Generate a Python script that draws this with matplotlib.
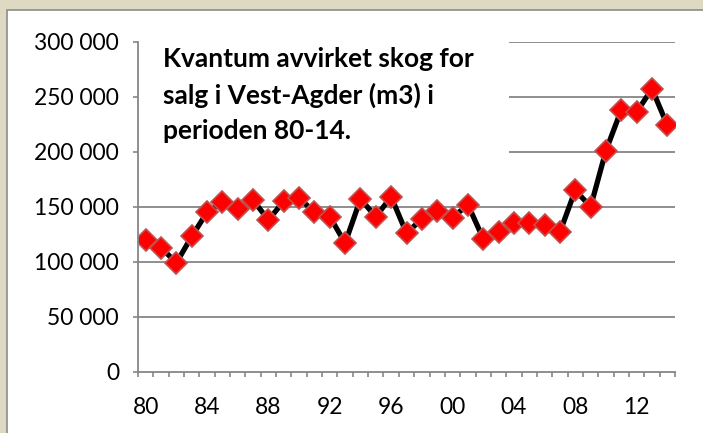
import matplotlib
matplotlib.use("Agg")
import matplotlib.pyplot as plt
from matplotlib.patches import Rectangle
import numpy as np

years = list(range(1980, 2015))
values = [120000, 113000, 99000, 123000, 145000, 154000, 148000, 156000, 138000, 155000,
          158000, 145000, 141000, 117000, 157000, 141000, 159000, 126000, 139000, 146000,
          140000, 152000, 121000, 127000, 135000, 135000, 133000, 127000, 165000, 150000,
          201000, 238000, 236000, 257000, 224000]
x_labels = ["80", "84", "88", "92", "96", "00", "04", "08", "12"]
y_ticks = [0, 50000, 100000, 150000, 200000, 250000, 300000]
y_labels = ["0", "50 000", "100 000", "150 000", "200 000", "250 000", "300 000"]
title = "Kvantum avvirket skog for\nsalg i Vest-Agder (m3) i\nperioden 80-14."

W, H = 703, 433
fig = plt.figure(figsize=(W / 100, H / 100), dpi=100, facecolor="#ddd9c3")
bg = fig.add_axes([0, 0, 1, 1], zorder=-5)
bg.set_axis_off()
bg.set_xlim(0, W)
bg.set_ylim(H, 0)
bg.add_patch(Rectangle((7, 10), W + 20, H + 20, facecolor="white", edgecolor="#8c8c8c",
                       linewidth=1.2))

ax = fig.add_axes([138 / W, (H - 372) / H, (675 - 138) / W, (372 - 41.5) / H])
ax.set_facecolor("none")
xs = np.arange(len(years))
gray = "#868686"
for yv in y_ticks[1:]:
    ax.axhline(yv, color=gray, linewidth=1.3, zorder=1)
ax.add_patch(Rectangle((0, 0.53), (509 - 138) / (675 - 138), 0.5, transform=ax.transAxes,
                       facecolor="white", edgecolor="none", zorder=2, clip_on=False))
ax.plot(xs, values, color="black", linewidth=3.8, zorder=3,
        marker="D", markersize=11, markerfacecolor="#ff0000", markeredgecolor="#c0504d",
        markeredgewidth=1.2)

ax.set_xlim(-0.5, len(years) - 0.5)
ax.set_ylim(0, 300000)
ax.set_yticks(y_ticks)
ax.set_yticklabels(y_labels)
ax.set_xticks(xs[::4])
ax.set_xticklabels(x_labels)
ax.set_xticks(np.arange(-0.5, len(years), 1), minor=True)
ax.tick_params(axis="x", which="major", length=0, pad=18)
ax.tick_params(axis="x", which="minor", length=3.6, color=gray, width=1.2, direction="out")
ax.tick_params(axis="y", length=3.6, color=gray, width=1.2, direction="out", pad=10)
for lab in ax.get_xticklabels() + ax.get_yticklabels():
    lab.set_fontfamily("Lato")
    lab.set_fontsize(16.5)
    lab.set_color("black")
for s in ["top", "right"]:
    ax.spines[s].set_visible(False)
for s in ["left", "bottom"]:
    ax.spines[s].set_color(gray)
    ax.spines[s].set_linewidth(1.3)
    ax.spines[s].set_zorder(4)

fig.text(163 / W, 1 - 47 / H, title, fontfamily="Lato", fontweight="bold", fontsize=19,
         va="top", ha="left", linespacing=1.55, color="black")

fig.savefig("out.png", dpi=100, facecolor=fig.get_facecolor())
